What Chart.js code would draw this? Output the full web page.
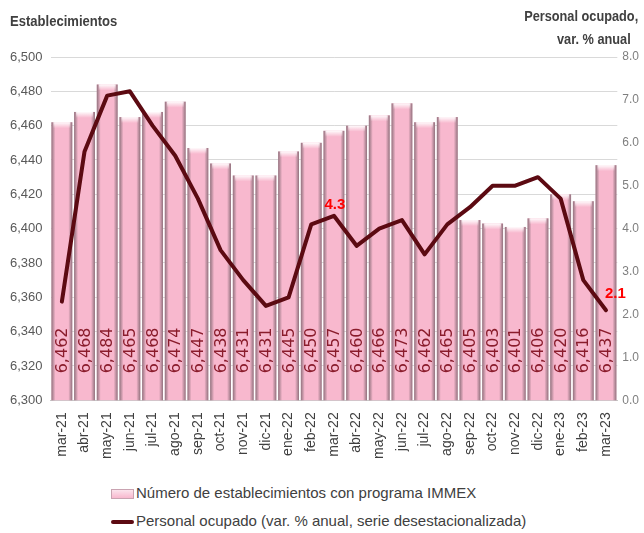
<!DOCTYPE html>
<html>
<head>
<meta charset="utf-8">
<script src="https://cdn.jsdelivr.net/npm/chart.js@4"></script>
<style>
  body{margin:0;background:#fff;}
  #caja{position:relative;width:644px;height:533px;font-family:"Liberation Sans",sans-serif;}
  #grafico{position:absolute;left:0;top:0;}
  .titulo{position:absolute;font-family:"Liberation Sans",sans-serif;font-weight:bold;font-size:15px;color:#404040;white-space:nowrap;}
  #leyenda{position:absolute;left:111px;top:482px;font-size:15px;color:#404040;}
  .item{height:28px;line-height:22px;white-space:nowrap;}
  .icono{display:inline-block;width:23px;vertical-align:middle;margin-right:2px;}
</style>
</head>
<body>
<div id="caja">
  <canvas id="grafico" width="644" height="467"></canvas>
  <div class="titulo" style="left:10px;top:12px;transform:scaleX(0.87);transform-origin:left;">Establecimientos</div>
  <div class="titulo" style="right:6px;top:7px;transform:scaleX(0.85);transform-origin:right;">Personal ocupado,</div>
  <div class="titulo" style="right:13px;top:30px;transform:scaleX(0.85);transform-origin:right;">var. % anual</div>
  <div id="leyenda"></div>
</div>
<script>
/* DADOS */
const meses = ["mar-21","abr-21","may-21","jun-21","jul-21","ago-21","sep-21","oct-21","nov-21","dic-21",
  "ene-22","feb-22","mar-22","abr-22","may-22","jun-22","jul-22","ago-22","sep-22","oct-22","nov-22","dic-22",
  "ene-23","feb-23","mar-23"];
const establecimientos = [6462,6468,6484,6465,6468,6474,6447,6438,6431,6431,6445,6450,6457,6460,6466,6473,
  6462,6465,6405,6403,6401,6406,6420,6416,6437];
const personal = [2.3,5.8,7.1,7.2,6.4,5.7,4.7,3.5,2.8,2.2,2.4,4.1,4.3,3.6,4.0,4.2,3.4,4.1,4.5,5.0,5.0,5.2,4.7,2.8,2.1];
const destacados = [12, 24]; // puntos con etiqueta roja

const rosa = "#f8b8ce";
const vinho = "#5c0a12";
const fmt = v => v.toLocaleString("en-US");

/* PLUGIN: efeito 3D das barras e valores dentro */
const barras3d = {
  id: "barras3d",
  afterDatasetDraw(chart, args) {
    if (args.index !== 0) return;
    const ctx = chart.ctx;
    const base = chart.scales.y.bottom;
    args.meta.data.forEach((el, i) => {
      const b = el.getProps(["x", "y", "width"], true);
      const l = b.x - b.width / 2, r = b.x + b.width / 2;
      ctx.save();
      // sombras laterais
      let g = ctx.createLinearGradient(l, 0, l + 4, 0);
      g.addColorStop(0, "rgba(110,90,98,0.75)");
      g.addColorStop(1, "rgba(110,90,98,0)");
      ctx.fillStyle = g;
      ctx.fillRect(l, b.y, 4, base - b.y);
      g = ctx.createLinearGradient(r - 4, 0, r, 0);
      g.addColorStop(0, "rgba(110,90,98,0)");
      g.addColorStop(1, "rgba(110,90,98,0.75)");
      ctx.fillStyle = g;
      ctx.fillRect(r - 4, b.y, 4, base - b.y);
      // brilho no topo
      g = ctx.createLinearGradient(0, b.y, 0, b.y + 6);
      g.addColorStop(0, "rgba(255,255,255,0.95)");
      g.addColorStop(1, "rgba(255,255,255,0)");
      ctx.fillStyle = g;
      ctx.fillRect(l + 2, b.y, b.width - 4, 6);
      ctx.restore();
    });
    // valores
    ctx.save();
    ctx.font = "16px 'DejaVu Sans', sans-serif";
    ctx.fillStyle = "#8a1c2c";
    ctx.textAlign = "left";
    ctx.textBaseline = "middle";
    args.meta.data.forEach((el, i) => {
      const x = el.getProps(["x"], true).x;
      ctx.save();
      ctx.translate(x, base - 27);
      ctx.rotate(-Math.PI / 2);
      ctx.fillText(fmt(establecimientos[i]), 0, 1);
      ctx.restore();
    });
    ctx.restore();
  },
  afterDatasetsDraw(chart) {
    const ctx = chart.ctx;
    const pts = chart.getDatasetMeta(1).data;
    ctx.save();
    ctx.font = "bold 15px 'Liberation Sans'";
    ctx.fillStyle = "#ff0000";
    ctx.textBaseline = "middle";
    destacados.forEach(i => {
      const p = pts[i];
      const txt = personal[i].toFixed(1);
      if (i === personal.length - 1) {
        ctx.textAlign = "left";
        ctx.fillText(txt, p.x - 1, p.y - 16);
      } else {
        ctx.textAlign = "center";
        ctx.fillText(txt, p.x + 1, p.y - 11);
      }
    });
    ctx.restore();
  }
};

/* GRÁFICO */
const grafico = new Chart(document.getElementById("grafico"), {
  data: {
    labels: meses,
    datasets: [
      {
        type: "bar",
        label: "Número de establecimientos con programa IMMEX",
        data: establecimientos,
        yAxisID: "y",
        backgroundColor: rosa,
        barPercentage: 0.92,
        categoryPercentage: 1.0,
        order: 2
      },
      {
        type: "line",
        label: "Personal ocupado (var. % anual, serie desestacionalizada)",
        data: personal,
        yAxisID: "y1",
        borderColor: vinho,
        borderWidth: 4,
        pointRadius: 0,
        tension: 0,
        borderCapStyle: "round",
        borderJoinStyle: "round",
        order: 1
      }
    ]
  },
  options: {
    responsive: false,
    animation: false,
    layout: { padding: { left: 2, right: 0, top: 57, bottom: 4 } },
    plugins: { legend: { display: false }, tooltip: { enabled: false } },
    scales: {
      x: {
        grid: { display: false },
        border: { color: "#c8c8c8", width: 1 },
        ticks: {
          minRotation: 90, maxRotation: 90, autoSkip: false, padding: 4,
          color: "#404040", font: { family: "Liberation Sans", size: 14 }
        }
      },
      y: {
        position: "left",
        min: 6300, max: 6500,
        grid: { color: "#d9d9d9", drawTicks: false },
        border: { display: false },
        ticks: {
          stepSize: 20, padding: 8, color: "#595959",
          font: { family: "Liberation Sans", size: 13 },
          callback: v => fmt(v)
        }
      },
      y1: {
        position: "right",
        min: 0, max: 8,
        grid: { drawOnChartArea: false, drawTicks: false },
        border: { display: false },
        ticks: {
          stepSize: 1, padding: 5, color: "#7f7f7f",
          font: { family: "Liberation Sans", size: 12 },
          callback: v => v.toFixed(1)
        }
      }
    }
  },
  plugins: [barras3d]
});

/* LEGENDA */
const leyenda = document.getElementById("leyenda");
grafico.data.datasets.forEach((d, i) => {
  const icono = i === 0
    ? `<span class="icono" style="height:10px;background:linear-gradient(#fbe3ec,${rosa});border:1px solid #c9a3b1;box-sizing:border-box;"></span>`
    : `<span class="icono" style="height:4px;background:${vinho};border-radius:2px;"></span>`;
  leyenda.innerHTML += `<div class="item">${icono}${d.label}</div>`;
});
</script>
</body>
</html>
